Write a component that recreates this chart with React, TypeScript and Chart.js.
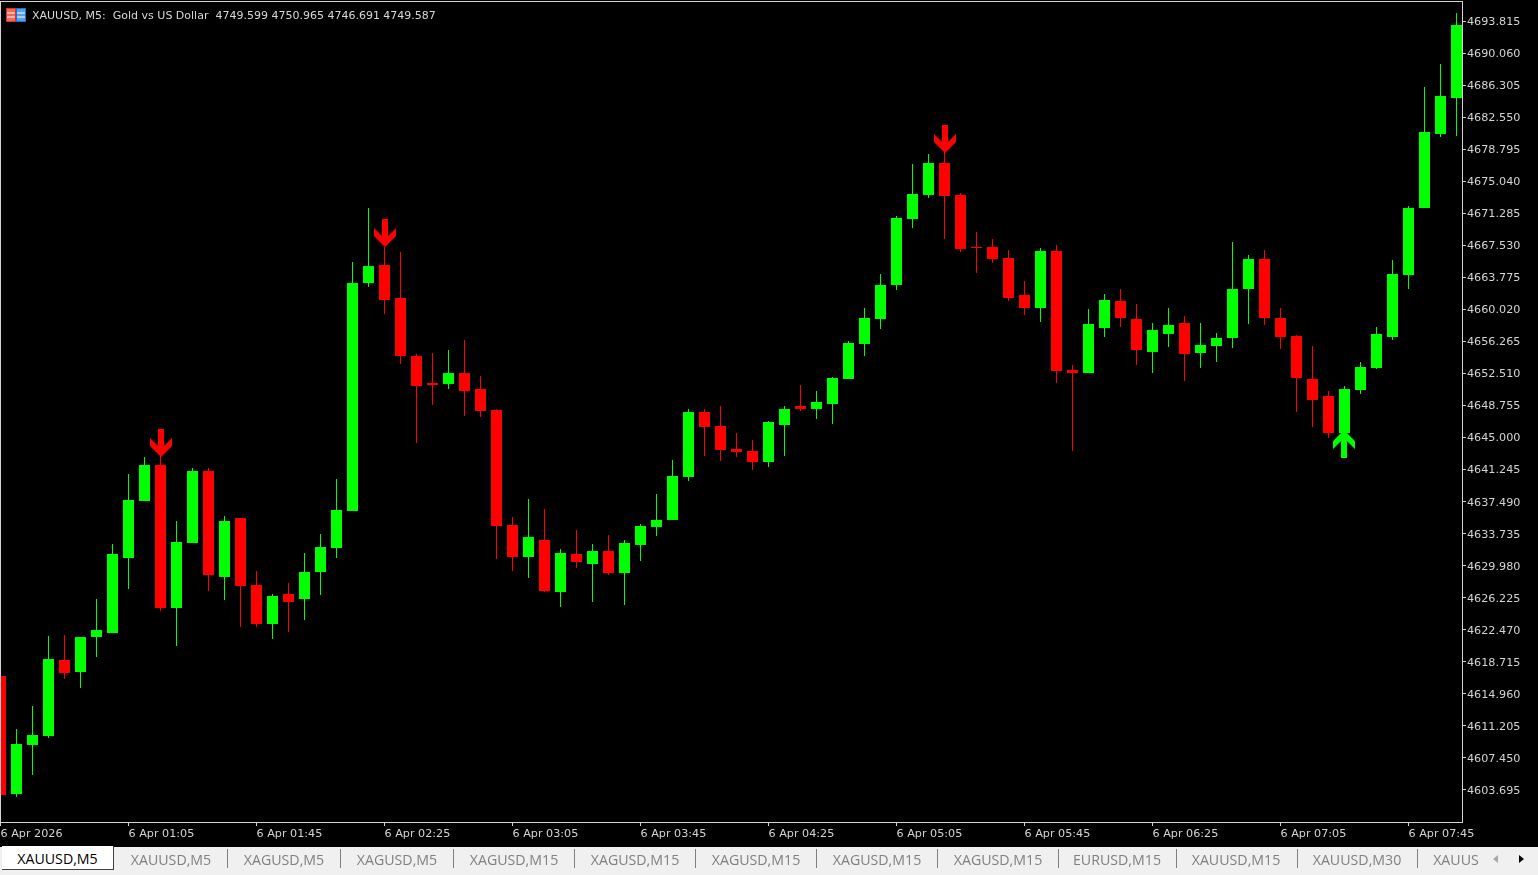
import React, { useEffect, useRef } from "react";
import { Chart, registerables } from "chart.js";

Chart.register(...registerables);

const opens = [4617.05,4603.22,4608.97,4610.02,4618.93,4617.52,4621.62,4622.09,4630.88,4637.56,4641.78,4625.02,4632.64,4641.08,4628.66,4635.57,4627.72,4623.15,4626.66,4626.08,4629.24,4632.05,4636.39,4663.11,4665.22,4661.35,4654.56,4651.39,4651.28,4652.56,4650.69,4648.23,4634.75,4631.00,4632.99,4626.90,4631.35,4630.18,4631.70,4629.12,4632.41,4634.52,4635.34,4640.38,4647.99,4646.35,4643.66,4643.42,4642.13,4646.47,4648.70,4648.35,4648.93,4651.86,4655.96,4658.89,4662.88,4670.61,4673.43,4677.18,4673.43,4667.33,4667.33,4666.04,4661.71,4660.18,4666.86,4652.92,4652.56,4657.84,4661.00,4658.89,4655.03,4657.14,4658.42,4654.91,4655.73,4656.67,4662.41,4665.93,4659.01,4656.90,4651.86,4649.87,4645.53,4650.57,4653.15,4656.78,4664.05,4671.90,4680.58,4684.79];
const highs = [4617.05,4610.84,4613.54,4621.74,4621.86,4621.62,4626.08,4632.52,4640.73,4642.72,4642.95,4635.22,4641.43,4641.43,4635.80,4635.57,4629.36,4626.66,4627.95,4631.47,4633.70,4640.14,4665.57,4671.90,4667.33,4666.75,4654.79,4654.91,4655.26,4656.43,4652.21,4648.35,4635.69,4637.80,4636.63,4631.94,4634.16,4632.52,4633.58,4632.99,4634.87,4638.38,4642.37,4648.35,4648.35,4648.70,4645.53,4644.71,4646.94,4648.70,4651.16,4650.45,4652.10,4656.31,4660.18,4664.17,4670.96,4677.06,4678.23,4678.47,4673.66,4669.09,4668.27,4666.98,4663.35,4667.21,4667.57,4653.50,4660.07,4661.82,4662.41,4660.65,4658.42,4660.18,4659.24,4658.42,4657.25,4667.92,4666.39,4666.98,4660.18,4657.02,4655.73,4650.45,4651.04,4653.85,4657.96,4665.81,4672.14,4686.08,4688.78,4694.76];
const lows = [4603.11,4602.87,4605.45,4609.79,4616.70,4615.65,4619.28,4622.09,4627.25,4637.56,4624.67,4620.57,4632.64,4627.01,4625.96,4622.80,4622.80,4621.39,4622.21,4623.62,4626.55,4630.88,4636.39,4662.64,4659.48,4653.62,4644.36,4648.81,4650.69,4647.52,4647.41,4630.77,4629.36,4628.54,4626.90,4625.14,4629.71,4625.73,4628.89,4625.37,4630.53,4633.46,4635.34,4639.91,4642.84,4642.25,4642.72,4641.20,4641.55,4642.84,4648.11,4647.17,4646.59,4651.86,4654.56,4657.72,4662.29,4669.56,4673.07,4668.27,4666.75,4664.28,4665.46,4661.00,4659.36,4658.54,4651.39,4643.42,4652.56,4656.78,4657.96,4653.50,4652.56,4655.61,4651.63,4653.15,4653.85,4655.49,4658.31,4658.19,4655.38,4647.99,4646.24,4644.95,4645.53,4650.10,4653.03,4656.43,4662.41,4671.90,4680.22,4680.34];
const closes = [4603.11,4609.08,4610.14,4619.05,4617.40,4621.62,4622.44,4631.35,4637.68,4641.78,4625.02,4632.76,4641.08,4628.89,4635.22,4627.60,4623.15,4626.43,4625.73,4629.24,4632.17,4636.51,4663.11,4665.10,4661.12,4654.56,4651.04,4651.16,4652.56,4650.45,4648.11,4634.63,4631.00,4633.34,4627.01,4631.47,4630.41,4631.70,4629.12,4632.64,4634.63,4635.34,4640.49,4647.99,4646.24,4643.54,4643.31,4642.13,4646.82,4648.35,4648.35,4649.17,4651.98,4656.08,4659.01,4662.88,4670.73,4673.54,4677.18,4673.31,4667.10,4667.21,4665.93,4661.35,4660.18,4666.86,4652.80,4652.56,4658.31,4661.12,4659.01,4655.26,4657.60,4658.19,4654.79,4655.85,4656.67,4662.41,4665.93,4659.01,4656.78,4651.98,4649.40,4645.53,4650.69,4653.27,4657.14,4664.17,4671.90,4680.81,4685.03,4693.35];

const priceTicks = [4693.815,4690.06,4686.305,4682.55,4678.795,4675.04,4671.285,4667.53,4663.775,4660.02,4656.265,4652.51,4648.755,4645.0,4641.245,4637.49,4633.735,4629.98,4626.225,4622.47,4618.715,4614.96,4611.205,4607.45,4603.695];
const timeTickIndex = [0,8,16,24,32,40,48,56,64,72,80,88];
const timeTickLabels = ["6 Apr 2026","6 Apr 01:05","6 Apr 01:45","6 Apr 02:25","6 Apr 03:05","6 Apr 03:45","6 Apr 04:25","6 Apr 05:05","6 Apr 05:45","6 Apr 06:25","6 Apr 07:05","6 Apr 07:45"];

const sellIndex = [10,24,59];
const sellPrice = [4644.36,4668.97,4679.99];
const buyIndex = [84];
const buyPrice = [4644.24];

const tabLabels = ["XAUUSD,M5","XAGUSD,M5","XAGUSD,M5","XAGUSD,M15","XAGUSD,M15","XAGUSD,M15","XAGUSD,M15","XAGUSD,M15","EURUSD,M15","XAUUSD,M15","XAUUSD,M30","XAUUS"];
const tabCenters = [171,284,397,514,635,756,877,998,1117,1236,1357,1456];
const tabSeparators = [227,340,453,574,695,816,937,1058,1176,1297,1417];

const GREEN = "#00ff00";
const RED = "#ff0000";
const AXIS = "#d4d4d4";
const FONT = '"DejaVu Sans", sans-serif';

function arrowImage(color: string, up: boolean) {
  const c = document.createElement("canvas");
  c.width = 23;
  c.height = 28;
  const g = c.getContext("2d")!;
  if (up) {
    g.translate(-0.5, 28);
    g.scale(1, -1);
  } else {
    g.translate(0.5, 0);
  }
  g.fillStyle = color;
  g.beginPath();
  g.moveTo(8.5, 0);
  g.lineTo(14.5, 0);
  g.lineTo(14.5, 17);
  g.lineTo(22.5, 9);
  g.lineTo(22.5, 17);
  g.lineTo(11.5, 28);
  g.lineTo(0.5, 17);
  g.lineTo(0.5, 9);
  g.lineTo(8.5, 17);
  g.closePath();
  g.fill();
  return c;
}

const framePlugin = {
  id: "frame",
  afterDraw(chart: any) {
    const { left, top, right, bottom } = chart.chartArea;
    const g = chart.ctx;
    g.save();
    g.strokeStyle = AXIS;
    g.lineWidth = 1;
    g.strokeRect(left + 0.5, top + 0.5, right - left, bottom - top);
    g.restore();
  },
};

const blackPlugin = {
  id: "blackBackground",
  beforeDraw(chart: any) {
    const g = chart.ctx;
    g.save();
    g.fillStyle = "#000000";
    g.fillRect(0, 0, chart.width, chart.height);
    g.restore();
  },
};

export default function App() {
  const ref = useRef<HTMLCanvasElement>(null);

  useEffect(() => {
    document.body.style.margin = "0";
    document.body.style.overflow = "hidden";
    const colors = closes.map((c, i) => (c >= opens[i] ? GREEN : RED));
    const chart = new Chart(ref.current!, {
      type: "bar",
      data: {
        datasets: [
          {
            type: "scatter",
            data: sellIndex.map((x, i) => ({ x, y: sellPrice[i] })),
            pointStyle: arrowImage(RED, false),
            pointRadius: 12,
            order: 1,
          },
          {
            type: "scatter",
            data: buyIndex.map((x, i) => ({ x, y: buyPrice[i] })),
            pointStyle: arrowImage(GREEN, true),
            pointRadius: 12,
            order: 1,
          },
          {
            data: opens.map((o, i) => ({ x: i, y: [Math.min(o, closes[i]), Math.max(o, closes[i])] })),
            backgroundColor: colors,
            barThickness: 11,
            grouped: false,
            inflateAmount: 0,
            minBarLength: 1,
            order: 2,
          },
          {
            data: lows.map((l, i) => ({ x: i, y: [l, highs[i]] })),
            backgroundColor: colors,
            barThickness: 1,
            grouped: false,
            inflateAmount: 0,
            order: 3,
          },
        ] as any,
      },
      options: {
        responsive: false,
        animation: false,
        events: [],
        layout: { autoPadding: false, padding: { left: 0, right: 0, top: 1, bottom: 0 } },
        plugins: { legend: { display: false }, tooltip: { enabled: false } },
        scales: {
          x: {
            type: "linear",
            offset: false,
            min: -0.03125,
            max: 91.34375,
            afterBuildTicks(scale: any) {
              scale.ticks = timeTickIndex.map((value) => ({ value }));
            },
            afterFit(scale: any) {
              scale.height = 25;
              scale.paddingLeft = 0;
              scale.paddingRight = 0;
            },
            border: { display: false },
            grid: { display: true, offset: false, drawOnChartArea: false, drawTicks: true, tickLength: 4, color: AXIS },
            ticks: {
              autoSkip: false,
              maxRotation: 0,
              minRotation: 0,
              align: "start",
              padding: 1,
              color: AXIS,
              font: { family: FONT, size: 11.2 },
              callback: (v: any) => timeTickLabels[timeTickIndex.indexOf(v)],
            },
          },
          y: {
            type: "linear",
            position: "right",
            min: 4696.28 - 0.1172 * 822,
            max: 4696.28 - 0.1172 * 1,
            afterBuildTicks(scale: any) {
              scale.ticks = priceTicks.map((value) => ({ value }));
            },
            afterFit(scale: any) {
              scale.width = 76;
              scale.paddingTop = 0;
              scale.paddingBottom = 0;
            },
            border: { display: false },
            grid: { display: true, drawOnChartArea: false, drawTicks: true, tickLength: 4, color: AXIS },
            ticks: {
              autoSkip: false,
              padding: 1,
              labelOffset: 1,
              color: AXIS,
              font: { family: FONT, size: 11.2 },
              callback: (v: any) => Number(v).toFixed(3),
            },
          },
        },
      } as any,
      plugins: [blackPlugin, framePlugin],
    });
    return () => chart.destroy();
  }, []);

  return (
    <div style={{ position: "absolute", left: 0, top: 0, width: 1538, height: 875, background: "#f0f0f0", overflow: "hidden", fontFamily: FONT }}>
      <canvas ref={ref} width={1538} height={847} style={{ position: "absolute", left: 0, top: 0, display: "block" }} />
      <svg width={20} height={14} style={{ position: "absolute", left: 6, top: 8 }}>
        <rect x={0.5} y={0.5} width={9} height={13} fill="#f06a5a" stroke="#e03020" />
        <rect x={10.5} y={0.5} width={9} height={13} fill="#5aa0e8" stroke="#1f6fd0" />
        <path d="M1 5H9M1 9H9" stroke="#ffffff" />
        <path d="M11 5H19M11 9H19" stroke="#ffffff" />
      </svg>
      <div style={{ position: "absolute", left: 32, top: 8, color: "#d8d8d8", fontSize: 11, lineHeight: "15px", whiteSpace: "pre" }}>
        {"XAUUSD, M5:  Gold vs US Dollar  4749.599 4750.965 4746.691 4749.587"}
      </div>
      <div style={{ position: "absolute", left: 2, top: 846, width: 111, height: 23, background: "#ffffff", borderRight: "1px solid #404040", borderBottom: "1px solid #404040", boxSizing: "content-box", color: "#000000", textAlign: "center", fontFamily: '"Open Sans", sans-serif', fontSize: 14.2, lineHeight: "25px" }}>
        XAUUSD,M5
      </div>
      {tabLabels.map((t, i) => (
        <div key={i} style={{ position: "absolute", left: tabCenters[i] - 60, width: 120, top: 847, textAlign: "center", color: "#808080", fontFamily: '"Open Sans", sans-serif', fontSize: 14.2, lineHeight: "25px" }}>
          {t}
        </div>
      ))}
      {tabSeparators.map((x, i) => (
        <div key={i} style={{ position: "absolute", left: x, top: 849, width: 1, height: 19, background: "#808080" }} />
      ))}
      <svg width={50} height={14} style={{ position: "absolute", left: 1490, top: 852 }}>
        <path d="M8 3L3 7L8 11Z" fill="#a8a8a8" />
        <path d="M29 3L34 7L29 11Z" fill="#000000" />
      </svg>
    </div>
  );
}
